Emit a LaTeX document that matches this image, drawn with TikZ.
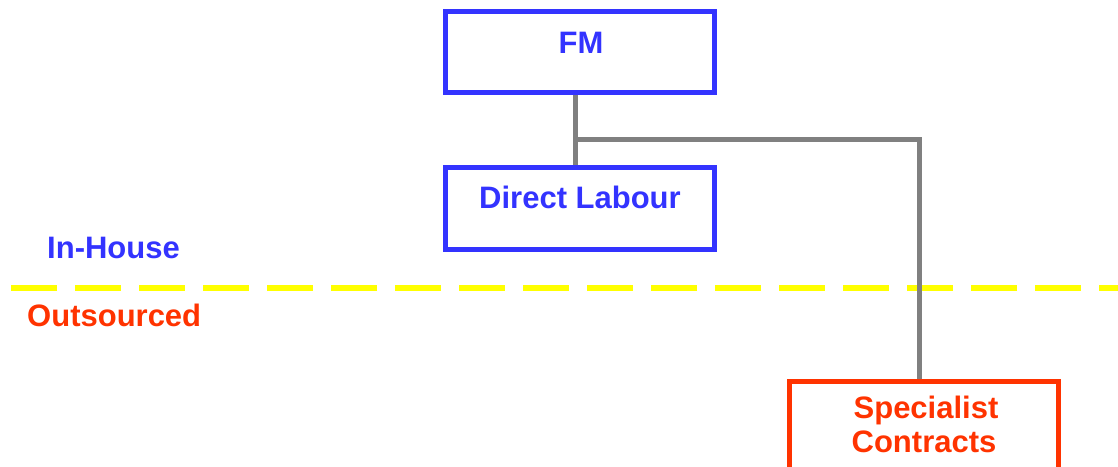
\documentclass[tikz,border=0pt]{standalone}
\usepackage{fontspec}
\setmainfont{Liberation Sans}
\usetikzlibrary{backgrounds}
\definecolor{myblue}{RGB}{51,51,255}
\definecolor{myred}{RGB}{255,51,0}
\definecolor{mygray}{RGB}{128,128,128}
\definecolor{myyellow}{RGB}{255,255,0}
\begin{document}
\begin{tikzpicture}[x=1pt,y=-1pt,
  box/.style={draw, line width=5pt, minimum width=269pt, inner sep=0pt},
  lbl/.style={font=\fontsize{31}{34}\selectfont\bfseries, inner sep=0pt, anchor=base},
  conn/.style={draw=mygray, line width=5pt}]
\clip (0,0) rectangle (1118,466);
% boxes
\node[box, draw=myblue, minimum height=81pt] (fm) at (580,52) {};
\node[box, draw=myblue, minimum height=82pt] (dl) at (580,208.5) {};
\node[box, draw=myred, minimum height=100pt] (sc) at (924,431.5) {};
% texts
\node[lbl, text=myblue] (fmt) at (581,53) {FM};
\node[lbl, text=myblue] (dlt) at (580,208) {Direct Labour};
\node[lbl, text=myred] (sct1) at (926,418) {Specialist};
\node[lbl, text=myred] (sct2) at (924,452) {Contracts};
\node[lbl, text=myblue, anchor=base west] (inh) at (47,258) {In-House};
\node[lbl, text=myred, anchor=base west] (outs) at (27,326) {Outsourced};
% coordinates
\coordinate (dL) at (11,288);
\coordinate (dR) at (1130,288);
\coordinate (j) at (575,139.5);
\coordinate (k) at (919,139.5);
\begin{scope}[on background layer]
% divider
\draw[myyellow, line width=6pt, dash pattern=on 46pt off 18pt] (dL) -- (dR);
% connectors
\draw[conn] (fm.south -| j) -- (dl.north -| j);
\draw[conn] (j) -- (k) -- (k |- sc.north);
\end{scope}
\end{tikzpicture}
\end{document}
